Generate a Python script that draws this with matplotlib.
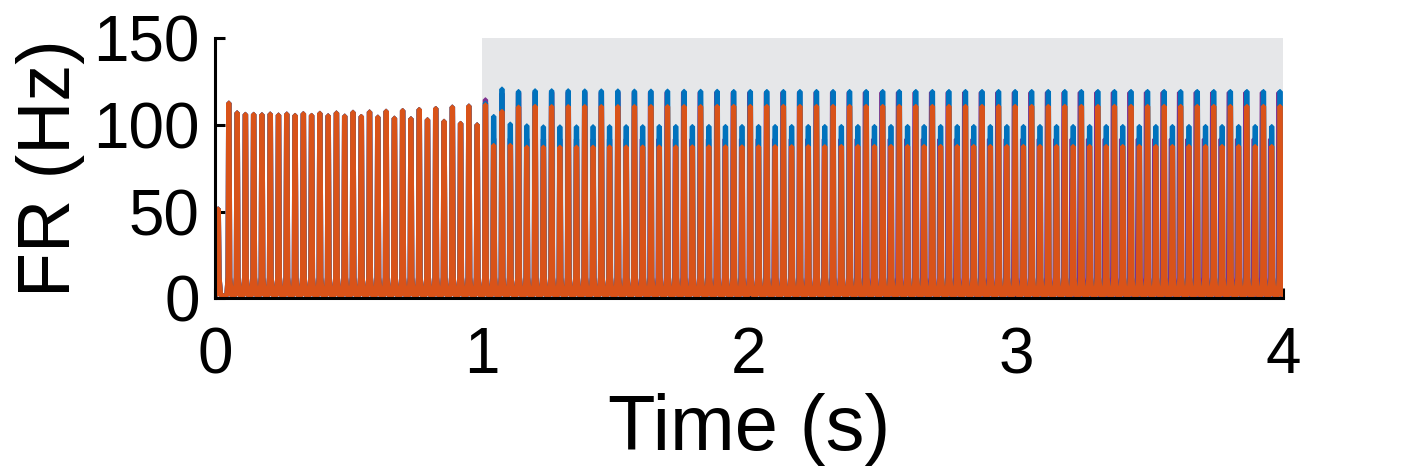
import matplotlib
matplotlib.use("Agg")
import matplotlib.pyplot as plt

plt.rcParams['font.family'] = ['Liberation Sans', 'DejaVu Sans']

# peak times of the population bursts (s)
spike_times = [
    0.012, 0.052, 0.083, 0.114, 0.145, 0.176, 0.207, 0.238, 0.269, 0.300,
    0.331, 0.362, 0.393, 0.424, 0.455, 0.486, 0.517, 0.548, 0.579, 0.610,
    0.641, 0.672, 0.703, 0.734, 0.765, 0.796, 0.827, 0.858, 0.889, 0.920,
    0.951, 0.982, 1.013, 1.044, 1.075, 1.106, 1.137, 1.168, 1.199, 1.230,
    1.261, 1.292, 1.323, 1.354, 1.385, 1.416, 1.447, 1.478, 1.509, 1.540,
    1.571, 1.602, 1.633, 1.664, 1.695, 1.726, 1.757, 1.788, 1.819, 1.850,
    1.881, 1.912, 1.943, 1.974, 2.005, 2.036, 2.067, 2.098, 2.129, 2.160,
    2.191, 2.222, 2.253, 2.284, 2.315, 2.346, 2.377, 2.408, 2.439, 2.470,
    2.501, 2.532, 2.563, 2.594, 2.625, 2.656, 2.687, 2.718, 2.749, 2.780,
    2.811, 2.842, 2.873, 2.904, 2.935, 2.966, 2.997, 3.028, 3.059, 3.090,
    3.121, 3.152, 3.183, 3.214, 3.245, 3.276, 3.307, 3.338, 3.369, 3.400,
    3.431, 3.462, 3.493, 3.524, 3.555, 3.586, 3.617, 3.648, 3.679, 3.710,
    3.741, 3.772, 3.803, 3.834, 3.865, 3.896, 3.927, 3.958, 3.989,
]

# peak firing rates (Hz), orange population
orange_peaks = [
    51.5, 112.5, 106.9, 106.0, 106.0, 105.8, 106.2, 105.6, 106.2, 105.4,
    106.4, 105.4, 106.6, 105.2, 106.8, 105.0, 107.2, 104.8, 107.4, 104.4,
    107.8, 103.8, 108.2, 103.5, 108.8, 102.9, 109.4, 102.0, 110.2, 100.8,
    110.8, 100.0, 111.5, 88.1, 107.7, 88.1, 110.2, 87.1, 110.6, 87.1,
    110.5, 87.1, 110.5, 87.1, 110.5, 87.1, 110.5, 87.2, 110.5, 87.2,
    110.5, 87.2, 110.5, 87.2, 110.5, 87.2, 110.5, 87.3, 110.5, 87.3,
    110.6, 87.3, 110.6, 87.3, 110.6, 87.3, 110.6, 87.4, 110.6, 87.4,
    110.6, 87.4, 110.6, 87.4, 110.6, 87.5, 110.6, 87.5, 110.6, 87.5,
    110.6, 87.5, 110.6, 87.5, 110.6, 87.5, 110.6, 87.5, 110.6, 87.5,
    110.6, 87.5, 110.6, 87.5, 110.6, 87.5, 110.6, 87.5, 110.6, 87.5,
    110.6, 87.5, 110.6, 87.5, 110.6, 87.5, 110.6, 87.5, 110.6, 87.5,
    110.6, 87.5, 110.6, 87.5, 110.6, 87.5, 110.6, 87.5, 110.6, 87.5,
    110.6, 87.5, 110.6, 87.5, 110.6, 87.5, 110.6, 87.5, 110.6,
]

# blue population (hidden behind orange before stimulation)
blue_peaks = [
    51.5, 112.5, 106.9, 106.0, 106.0, 105.8, 106.2, 105.6, 106.2, 105.4,
    106.4, 105.4, 106.6, 105.2, 106.8, 105.0, 107.2, 104.8, 107.4, 104.4,
    107.8, 103.8, 108.2, 103.5, 108.8, 102.9, 109.4, 102.0, 110.2, 100.8,
    110.8, 100.0, 112.5, 104.8, 120.6, 100.4, 119.2, 99.4, 119.6, 98.8,
    119.6, 98.8, 119.6, 98.8, 119.5, 98.9, 119.5, 98.9, 119.5, 98.9,
    119.4, 98.9, 119.4, 99.0, 119.4, 99.0, 119.3, 99.0, 119.3, 99.0,
    119.3, 99.0, 119.2, 99.0, 119.2, 99.0, 119.2, 99.0, 119.2, 99.0,
    119.2, 99.0, 119.2, 99.0, 119.2, 99.0, 119.2, 99.0, 119.2, 99.0,
    119.2, 99.0, 119.2, 99.0, 119.2, 99.0, 119.2, 99.0, 119.2, 99.0,
    119.2, 99.0, 119.2, 99.0, 119.2, 99.0, 119.2, 99.0, 119.2, 99.0,
    119.2, 99.0, 119.2, 99.0, 119.2, 99.0, 119.2, 99.0, 119.2, 99.0,
    119.2, 99.0, 119.2, 99.0, 119.2, 99.0, 119.2, 99.0, 119.2, 99.0,
    119.2, 99.0, 119.2, 99.0, 119.2, 99.0, 119.2, 99.0, 119.2,
]

# purple population, slightly ahead of orange late in the run
purple_peaks = [
    51.5, 112.5, 106.9, 106.0, 106.0, 105.8, 106.2, 105.6, 106.2, 105.4,
    106.4, 105.4, 106.6, 105.2, 106.8, 105.0, 107.2, 104.8, 107.4, 104.4,
    107.8, 103.8, 108.2, 103.5, 108.8, 102.9, 109.4, 102.0, 110.2, 100.8,
    110.8, 100.0, 114.4, 92.0, 118.0, 92.0, 118.5, 91.8, 118.6, 91.7,
    118.6, 91.7, 118.6, 91.7, 118.6, 91.7, 118.6, 91.7, 118.6, 91.7,
    118.6, 91.7, 118.6, 91.7, 118.6, 91.7, 118.6, 91.7, 118.6, 91.7,
    118.6, 91.7, 118.6, 91.7, 118.6, 91.7, 118.6, 91.7, 118.6, 91.7,
    118.6, 91.7, 118.6, 91.7, 118.6, 91.7, 118.6, 91.7, 118.6, 91.7,
    118.6, 91.7, 118.6, 91.7, 118.6, 91.7, 118.6, 91.7, 118.6, 91.7,
    118.6, 91.7, 118.6, 91.7, 118.6, 91.7, 118.6, 91.7, 118.6, 91.7,
    118.6, 91.7, 118.6, 91.7, 118.6, 91.7, 118.6, 91.7, 118.6, 91.7,
    118.6, 91.7, 118.6, 91.7, 118.6, 91.7, 118.6, 91.7, 118.6, 91.7,
    118.6, 91.7, 118.6, 91.7, 118.6, 91.7, 118.6, 91.7, 118.6,
]
# how far purple leads orange (s), stepwise over time
purple_lead_from = [0.0, 1.6, 2.4, 3.2]
purple_lead = [0.0, 0.0015, 0.0028, 0.004]

stim_on, stim_off = 1.0, 4.0
yticks = [0, 50, 100, 150]
xticks = [0, 1, 2, 3, 4]


def burst_trace(times, peaks, base=1.5):
    # each burst: steep rise with a small foot, flat top, steep decay
    xs, ys = [0.0], [base]
    for t, h in zip(times, peaks):
        xs += [t - 0.008, t - 0.0035, t - 0.0012, t + 0.0012, t + 0.004, t + 0.010]
        ys += [base, 12, h, h, 12, base]
    xs.append(4.0)
    ys.append(base)
    return xs, ys


def lead_at(t):
    val = 0.0
    for start, lead in zip(purple_lead_from, purple_lead):
        if t >= start:
            val = lead
    return val


purple_times = [t - lead_at(t) for t in spike_times]

fig = plt.figure(figsize=(14.17, 4.72), dpi=100)
ax = fig.add_axes([0.1517, 0.368, 0.7537, 0.5515])
ax.set_axisbelow(True)  # ticks sit under the traces, as in the original

ax.axvspan(stim_on, stim_off, color='#e6e7e9', lw=0, zorder=0)

lw = 3.5
x, y = burst_trace(purple_times, purple_peaks)
ax.plot(x, y, color='#7E2F8E', lw=lw, solid_joinstyle='bevel', zorder=1)
x, y = burst_trace(spike_times, blue_peaks)
ax.plot(x, y, color='#0072BD', lw=lw, solid_joinstyle='bevel', zorder=1.1)
x, y = burst_trace(spike_times, orange_peaks)
ax.plot(x, y, color='#D95319', lw=lw, solid_joinstyle='bevel', zorder=1.2)

ax.set_xlim(0, 4)
ax.set_ylim(0, 150)
ax.set_xticks(xticks)
ax.set_yticks(yticks)
for side in ['top', 'right']:
    ax.spines[side].set_visible(False)
for side in ['left', 'bottom']:
    ax.spines[side].set_linewidth(2.2)
    ax.spines[side].set_zorder(3)
ax.tick_params(axis='both', direction='in', length=7.5, width=2.2, labelsize=46)
ax.tick_params(axis='x', pad=20)
ax.tick_params(axis='y', pad=11)

ax.set_xlabel('Time (s)', fontsize=56, labelpad=5)
ax.set_ylabel('FR (Hz)', fontsize=53, labelpad=6)

fig.savefig('out.png', dpi=100)
